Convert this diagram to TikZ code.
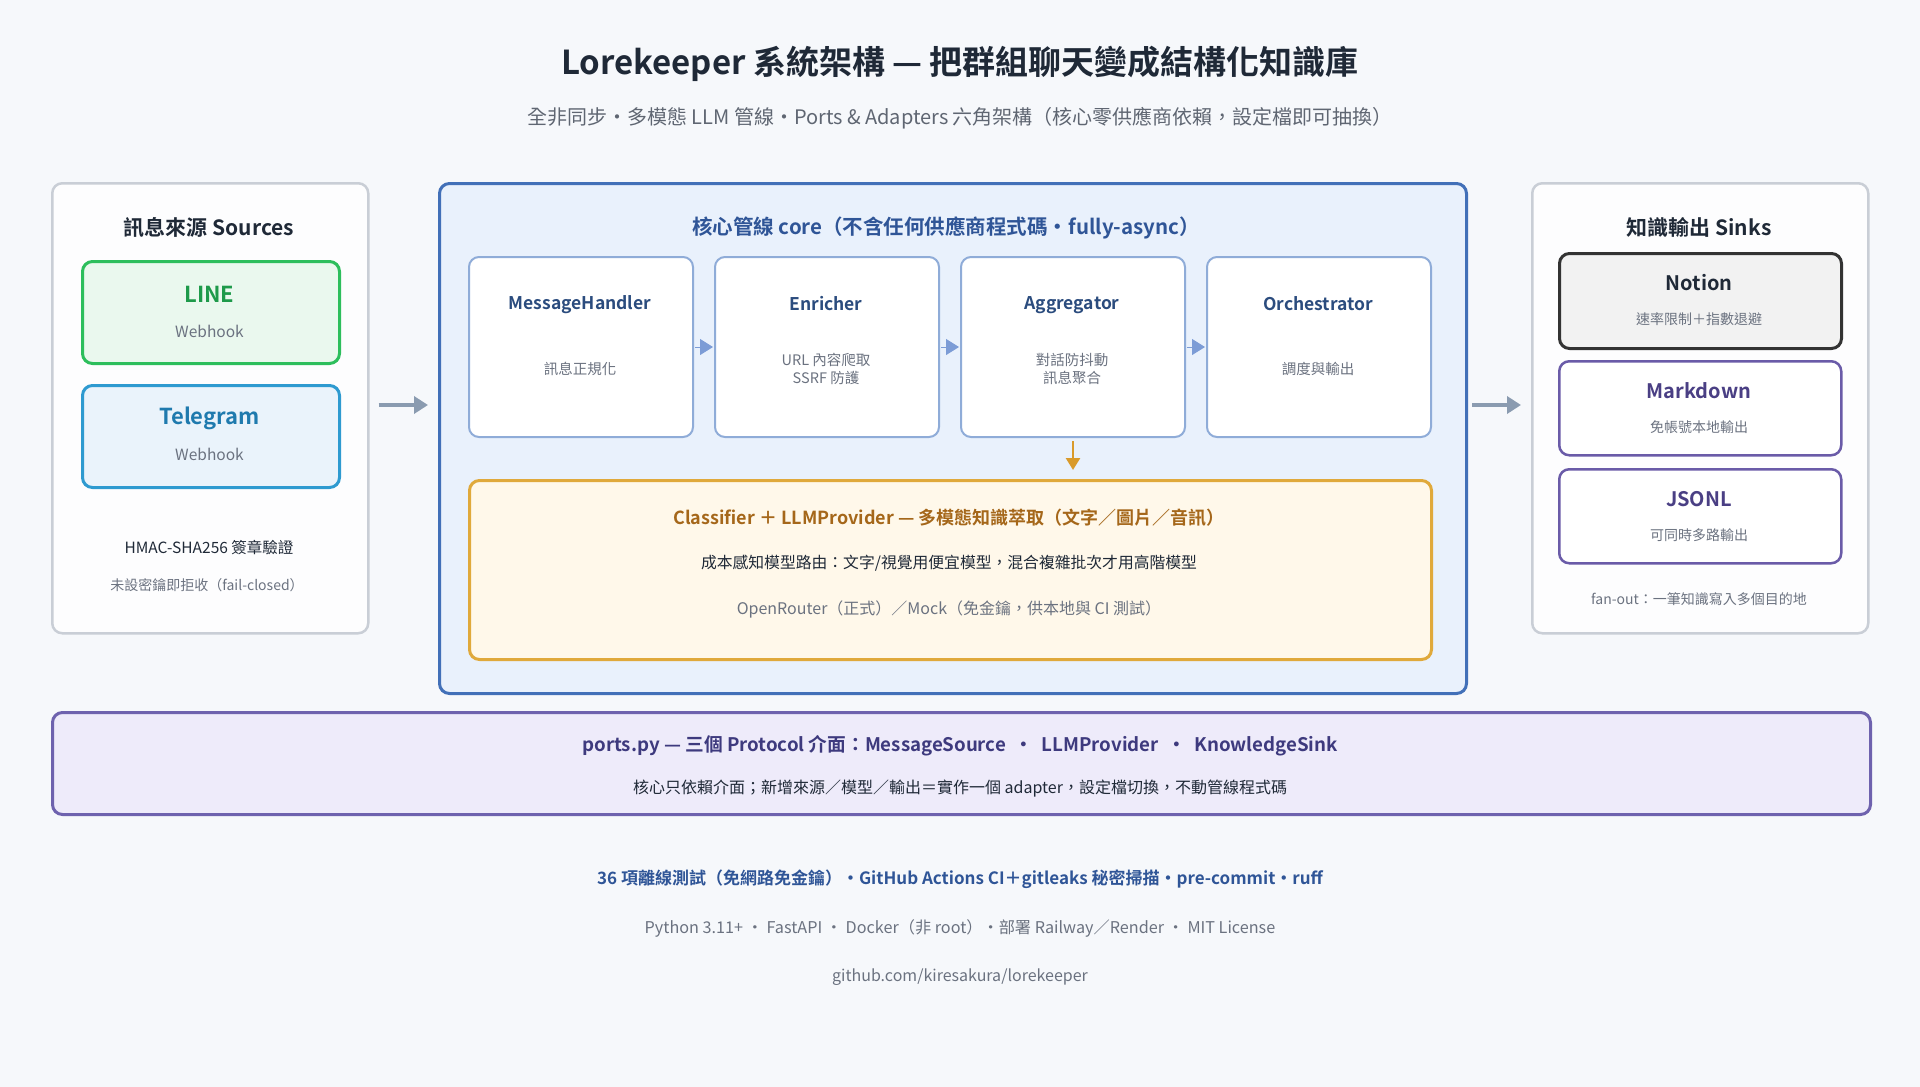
\documentclass[tikz,border=0pt]{standalone}
\usepackage{fontspec}
\setmainfont{Noto Sans CJK TC}[BoldFont={Noto Sans CJK TC Bold}]
\usetikzlibrary{arrows.meta}
\definecolor{bg}{HTML}{F6F8FB}
\definecolor{paneldraw}{HTML}{C9CED6}
\definecolor{panelfill}{HTML}{FDFDFE}
\definecolor{titlec}{HTML}{1F2937}
\definecolor{subc}{HTML}{5F6672}
\definecolor{greyc}{HTML}{6B7280}
\definecolor{linedraw}{HTML}{2DBE5C}
\definecolor{linefill}{HTML}{EAF8EE}
\definecolor{linetext}{HTML}{1E9A4A}
\definecolor{tgdraw}{HTML}{2E9AD0}
\definecolor{tgfill}{HTML}{EAF3FB}
\definecolor{tgtext}{HTML}{1F7AAE}
\definecolor{coredraw}{HTML}{4270B8}
\definecolor{corefill}{HTML}{E9F1FC}
\definecolor{coretext}{HTML}{2F5597}
\definecolor{stagedraw}{HTML}{8FACD8}
\definecolor{stagetext}{HTML}{2B4C7E}
\definecolor{stagearr}{HTML}{7C9CD6}
\definecolor{clsdraw}{HTML}{E0A93B}
\definecolor{clsfill}{HTML}{FFF8EA}
\definecolor{clstext}{HTML}{A5671A}
\definecolor{darrow}{HTML}{D99A2B}
\definecolor{notiondraw}{HTML}{333333}
\definecolor{notionfill}{HTML}{F2F2F2}
\definecolor{purpdraw}{HTML}{6A5BA8}
\definecolor{purptext}{HTML}{4A3F84}
\definecolor{portsfill}{HTML}{EEEBFA}
\definecolor{portsdraw}{HTML}{6E62AE}
\definecolor{portstext}{HTML}{3E3A7E}
\definecolor{arrowc}{HTML}{8A9BB0}
\newcommand\fsz[1]{\fontsize{#1}{#1}\selectfont}
\newcommand\mystrut{\vrule height .88em depth .12em width 0pt\relax}
\tikzset{
  boxbase/.style={rectangle, rounded corners=10pt, anchor=north west, inner sep=0pt},
  panel/.style={boxbase, draw=paneldraw, fill=panelfill, line width=2.5pt},
  txt/.style={inner sep=0pt, anchor=center, align=center, execute at begin node=\mystrut},
  stagebox/.style={boxbase, draw=stagedraw, fill=white, line width=2pt, minimum width=224pt, minimum height=180pt},
  stagetitle/.style={txt, text=stagetext, font=\fsz{17.5}\bfseries},
  stagesub/.style={txt, text=greyc, font=\fsz{14.5}},
  sinkbox/.style={boxbase, line width=2.5pt, minimum width=282pt, minimum height=94pt},
  bigarrow/.style={draw=arrowc, line width=3.5pt, -{Triangle[length=14pt,width=17pt]}},
  stagearrow/.style={draw=stagearr, line width=1pt, -{Triangle[length=13pt,width=16pt]}},
}
\begin{document}
\begin{tikzpicture}[x=1pt,y=-1pt]
\fill[bg] (0,0) rectangle (1920,1087);
\useasboundingbox (0,0) rectangle (1920,1087);

% title
\node[txt, text=titlec, font=\fsz{33}\bfseries] (title) at (960,64) {Lorekeeper 系統架構 — 把群組聊天變成結構化知識庫};
\node[txt, text=subc, font=\fsz{20}] (subtitle) at (960,118) {全非同步・多模態 LLM 管線・Ports \& Adapters 六角架構（核心零供應商依賴，設定檔即可抽換）};

% left panel
\node[panel, minimum width=316pt, minimum height=450pt] (leftp) at (51,182) {};
\node[txt, text=titlec, font=\fsz{21}\bfseries] (srctitle) at (209,228) {訊息來源 Sources};
\node[boxbase, draw=linedraw, fill=linefill, line width=3pt, minimum width=257pt, minimum height=102pt] (line) at (81,260) {};
\node[txt, text=linetext, font=\fsz{22}\bfseries] (linet) at (209.5,294) {LINE};
\node[txt, text=greyc, font=\fsz{15.5}] (lines) at (209.5,332) {Webhook};
\node[boxbase, draw=tgdraw, fill=tgfill, line width=3pt, minimum width=257pt, minimum height=102pt] (tg) at (81,384) {};
\node[txt, text=tgtext, font=\fsz{22}\bfseries] (tgt) at (209.5,417) {Telegram};
\node[txt, text=greyc, font=\fsz{15.5}] (tgs) at (209.5,455) {Webhook};
\node[txt, text=titlec, font=\fsz{15.5}] (hmac) at (209,548) {HMAC-SHA256 簽章驗證};
\node[txt, text=greyc, font=\fsz{14}] (failc) at (207,585) {未設密鑰即拒收（fail-closed）};

% core panel
\node[boxbase, draw=coredraw, fill=corefill, line width=3pt, minimum width=1027pt, minimum height=510pt] (core) at (438,182) {};
\node[txt, text=coretext, font=\fsz{20.5}\bfseries] (coretitle) at (946,228) {核心管線 core（不含任何供應商程式碼・fully-async）};

\node[stagebox] (s1) at (468,256) {};
\node[stagebox] (s2) at (714,256) {};
\node[stagebox] (s3) at (960,256) {};
\node[stagebox] (s4) at (1206,256) {};
\node[stagetitle] (s1t) at (580,304) {MessageHandler};
\node[stagesub] (s1s) at (580,369) {訊息正規化};
\node[stagetitle] (s2t) at (826,304) {Enricher};
\node[stagesub] (s2s) at (826,360) {URL 內容爬取};
\node[stagesub] (s2s2) at (826,378) {SSRF 防護};
\node[stagetitle] (s3t) at (1072,304) {Aggregator};
\node[stagesub] (s3s) at (1072,360) {對話防抖動};
\node[stagesub] (s3s2) at (1072,378) {訊息聚合};
\node[stagetitle] (s4t) at (1318,304) {Orchestrator};
\node[stagesub] (s4s) at (1318,369) {調度與輸出};

\draw[stagearrow] ([xshift=1pt]s1.east) -- ([xshift=-1pt]s2.west);
\draw[stagearrow] ([xshift=1pt]s2.east) -- ([xshift=-1pt]s3.west);
\draw[stagearrow] ([xshift=1pt]s3.east) -- ([xshift=-1pt]s4.west);

\node[boxbase, draw=clsdraw, fill=clsfill, line width=3pt, minimum width=962pt, minimum height=179pt] (cls) at (468,479) {};
\node[txt, text=clstext, font=\fsz{18}\bfseries] (clst) at (949,518) {Classifier ＋ LLMProvider — 多模態知識萃取（文字／圖片／音訊）};
\node[txt, text=titlec, font=\fsz{15.8}] (clss) at (949,563) {成本感知模型路由：文字/視覺用便宜模型，混合複雜批次才用高階模型};
\node[txt, text=greyc, font=\fsz{16}] (clss2) at (949,609) {OpenRouter（正式）／Mock（免金鑰，供本地與 CI 測試）};
\draw[draw=darrow, line width=2.5pt, -{Triangle[length=12pt,width=14pt]}, shorten <=3pt, shorten >=9pt] (s3.south) -- (s3.south |- cls.north);

% right panel
\node[panel, minimum width=336pt, minimum height=450pt] (rightp) at (1531,182) {};
\node[txt, text=titlec, font=\fsz{21}\bfseries] (sinktitle) at (1699,228) {知識輸出 Sinks};
\node[sinkbox, draw=notiondraw, fill=notionfill, line width=3pt, minimum height=95pt] (notion) at (1558,252) {};
\node[txt, text=titlec, font=\fsz{20}\bfseries] (notiont) at (1699,283) {Notion};
\node[txt, text=greyc, font=\fsz{14}] (notions) at (1699,319) {速率限制＋指數退避};
\node[sinkbox, draw=purpdraw, fill=white] (md) at (1558,360) {};
\node[txt, text=purptext, font=\fsz{20}\bfseries] (mdt) at (1699,391) {Markdown};
\node[txt, text=greyc, font=\fsz{14}] (mds) at (1699,427) {免帳號本地輸出};
\node[sinkbox, draw=purpdraw, fill=white] (jsonl) at (1558,468) {};
\node[txt, text=purptext, font=\fsz{20}\bfseries] (jsonlt) at (1699,499) {JSONL};
\node[txt, text=greyc, font=\fsz{14}] (jsonls) at (1699,535) {可同時多路輸出};
\node[txt, text=greyc, font=\fsz{14}] (fanout) at (1699,599) {fan-out：一筆知識寫入多個目的地};

% big arrows
\coordinate (la) at (leftp.east |- 0,405);
\coordinate (ra) at (core.east |- 0,405);
\draw[bigarrow, shorten <=9pt, shorten >=10pt] (la) -- (la -| core.west);
\draw[bigarrow, shorten <=4pt, shorten >=10pt] (ra) -- (ra -| rightp.west);

% ports
\node[boxbase, draw=portsdraw, fill=portsfill, line width=3pt, minimum width=1818pt, minimum height=102pt] (ports) at (51,711) {};
\node[txt, text=portstext, font=\fsz{18.7}\bfseries] (portst) at (960,746) {ports.py — 三個 Protocol 介面：MessageSource \ ・ \ LLMProvider \ ・ \ KnowledgeSink};
\node[txt, text=titlec, font=\fsz{16}] (portss) at (960,788) {核心只依賴介面；新增來源／模型／輸出＝實作一個 adapter，設定檔切換，不動管線程式碼};

% footer
\node[txt, text=coretext, font=\fsz{17}\bfseries] (f1) at (960,879) {36 項離線測試（免網路免金鑰）・GitHub Actions CI＋gitleaks 秘密掃描・pre-commit・ruff};
\node[txt, text=greyc, font=\fsz{16.2}] (f2) at (960,928) {Python 3.11+ ・ FastAPI ・ Docker（非 root）・部署 Railway／Render ・ MIT License};
\node[txt, text=greyc, font=\fsz{16}] (f3) at (960,976) {github.com/kiresakura/lorekeeper};
\end{tikzpicture}
\end{document}
